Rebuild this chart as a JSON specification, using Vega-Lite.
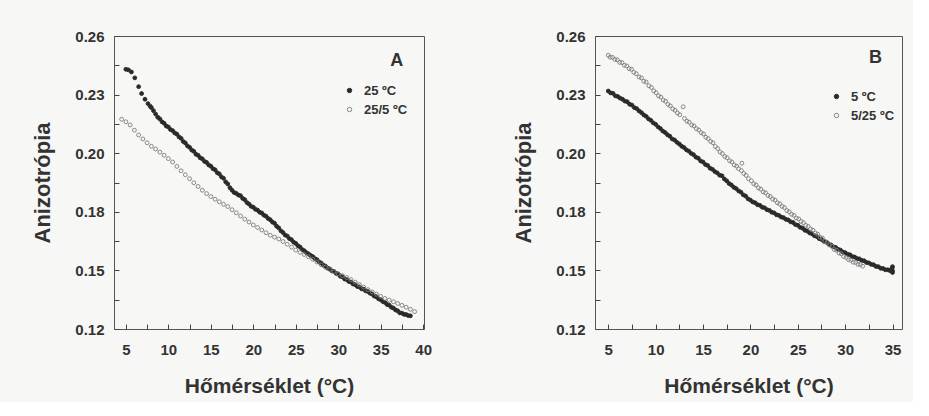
{
"$schema": "https://vega.github.io/schema/vega-lite/v6.json",
"background": "#f7f7f5",
"padding": {"left": 31, "top": 28, "right": 10, "bottom": 5},
"spacing": 80,
"config": {
  "font": "Liberation Sans",
  "view": {"stroke": "#555555", "strokeWidth": 1},
  "axis": {"domain": false, "grid": false, "offset": -5, "tickColor": "#444444", "tickSize": 5, "tickWidth": 1, "tickCount": 60,
    "labelFontSize": 15, "labelFontWeight": "bold", "labelColor": "#333333", "labelOverlap": false, "labelFlush": false, "labelBound": false,
    "titleFontSize": 21, "titleFontWeight": "bold", "titleColor": "#333333"},
  "axisX": {"labelPadding": 13, "titlePadding": 18},
  "axisY": {"labelPadding": 10, "titlePadding": 20, "titleFontSize": 22},
  "legend": {"orient": "none", "title": null, "labelFontSize": 13, "labelFontWeight": "bold", "labelColor": "#333333", "symbolType": "circle", "symbolSize": 20, "symbolStrokeWidth": 0.9, "rowPadding": 5, "labelOffset": 8}
},
"resolve": {"scale": {"x": "independent", "y": "independent", "fill": "independent", "stroke": "independent"}, "legend": {"fill": "independent", "stroke": "independent"}},
"datasets": {
"a": [
{"t":5.0,"r":0.2441,"s":"25 ºC"},{"t":5.3,"r":0.2438,"s":"25 ºC"},{"t":5.65,"r":0.2428,"s":"25 ºC"},{"t":6.05,"r":0.2400,"s":"25 ºC"},{"t":6.5,"r":0.2358,"s":"25 ºC"},{"t":6.85,"r":0.2325,"s":"25 ºC"},{"t":7.25,"r":0.2298,"s":"25 ºC"},{"t":7.6,"r":0.2277,"s":"25 ºC"},{"t":7.85,"r":0.2265,"s":"25 ºC"},
{"t":8.0,"r":0.2258,"s":"25 ºC"},{"t":8.25,"r":0.2243,"s":"25 ºC"},{"t":8.5,"r":0.2227,"s":"25 ºC"},{"t":8.75,"r":0.2212,"s":"25 ºC"},{"t":9.0,"r":0.2204,"s":"25 ºC"},{"t":9.25,"r":0.2190,"s":"25 ºC"},{"t":9.5,"r":0.2183,"s":"25 ºC"},{"t":9.75,"r":0.2170,"s":"25 ºC"},{"t":10.0,"r":0.2165,"s":"25 ºC"},{"t":10.25,"r":0.2153,"s":"25 ºC"},{"t":10.5,"r":0.2148,"s":"25 ºC"},{"t":10.75,"r":0.2137,"s":"25 ºC"},{"t":11.0,"r":0.2131,"s":"25 ºC"},{"t":11.25,"r":0.2118,"s":"25 ºC"},{"t":11.5,"r":0.2111,"s":"25 ºC"},{"t":11.75,"r":0.2096,"s":"25 ºC"},{"t":12.0,"r":0.2089,"s":"25 ºC"},{"t":12.25,"r":0.2075,"s":"25 ºC"},{"t":12.5,"r":0.2068,"s":"25 ºC"},{"t":12.75,"r":0.2055,"s":"25 ºC"},{"t":13.0,"r":0.2049,"s":"25 ºC"},{"t":13.25,"r":0.2035,"s":"25 ºC"},{"t":13.5,"r":0.2030,"s":"25 ºC"},{"t":13.75,"r":0.2018,"s":"25 ºC"},{"t":14.0,"r":0.2013,"s":"25 ºC"},{"t":14.25,"r":0.2001,"s":"25 ºC"},{"t":14.5,"r":0.1996,"s":"25 ºC"},{"t":14.75,"r":0.1984,"s":"25 ºC"},{"t":15.0,"r":0.1978,"s":"25 ºC"},{"t":15.25,"r":0.1966,"s":"25 ºC"},{"t":15.5,"r":0.1961,"s":"25 ºC"},{"t":15.75,"r":0.1947,"s":"25 ºC"},{"t":16.0,"r":0.1941,"s":"25 ºC"},{"t":16.25,"r":0.1927,"s":"25 ºC"},{"t":16.5,"r":0.1920,"s":"25 ºC"},{"t":16.75,"r":0.1903,"s":"25 ºC"},{"t":17.0,"r":0.1893,"s":"25 ºC"},{"t":17.25,"r":0.1875,"s":"25 ºC"},{"t":17.5,"r":0.1863,"s":"25 ºC"},{"t":17.75,"r":0.1852,"s":"25 ºC"},{"t":18.0,"r":0.1848,"s":"25 ºC"},{"t":18.25,"r":0.1840,"s":"25 ºC"},{"t":18.5,"r":0.1837,"s":"25 ºC"},{"t":18.75,"r":0.1824,"s":"25 ºC"},{"t":19.0,"r":0.1818,"s":"25 ºC"},{"t":19.25,"r":0.1804,"s":"25 ºC"},{"t":19.5,"r":0.1797,"s":"25 ºC"},{"t":19.75,"r":0.1786,"s":"25 ºC"},{"t":20.0,"r":0.1782,"s":"25 ºC"},{"t":20.25,"r":0.1772,"s":"25 ºC"},{"t":20.5,"r":0.1768,"s":"25 ºC"},{"t":20.75,"r":0.1758,"s":"25 ºC"},{"t":21.0,"r":0.1754,"s":"25 ºC"},{"t":21.25,"r":0.1744,"s":"25 ºC"},{"t":21.5,"r":0.1739,"s":"25 ºC"},{"t":21.75,"r":0.1728,"s":"25 ºC"},{"t":22.0,"r":0.1722,"s":"25 ºC"},{"t":22.25,"r":0.1711,"s":"25 ºC"},{"t":22.5,"r":0.1705,"s":"25 ºC"},{"t":22.75,"r":0.1691,"s":"25 ºC"},{"t":23.0,"r":0.1683,"s":"25 ºC"},{"t":23.25,"r":0.1669,"s":"25 ºC"},{"t":23.5,"r":0.1661,"s":"25 ºC"},{"t":23.75,"r":0.1649,"s":"25 ºC"},{"t":24.0,"r":0.1644,"s":"25 ºC"},{"t":24.25,"r":0.1632,"s":"25 ºC"},{"t":24.5,"r":0.1627,"s":"25 ºC"},{"t":24.75,"r":0.1615,"s":"25 ºC"},{"t":25.0,"r":0.1609,"s":"25 ºC"},{"t":25.25,"r":0.1598,"s":"25 ºC"},{"t":25.5,"r":0.1592,"s":"25 ºC"},{"t":25.75,"r":0.1580,"s":"25 ºC"},{"t":26.0,"r":0.1574,"s":"25 ºC"},{"t":26.25,"r":0.1565,"s":"25 ºC"},{"t":26.5,"r":0.1559,"s":"25 ºC"},{"t":26.75,"r":0.1551,"s":"25 ºC"},{"t":27.0,"r":0.1546,"s":"25 ºC"},{"t":27.25,"r":0.1536,"s":"25 ºC"},{"t":27.5,"r":0.1531,"s":"25 ºC"},{"t":27.75,"r":0.1520,"s":"25 ºC"},{"t":28.0,"r":0.1515,"s":"25 ºC"},{"t":28.25,"r":0.1505,"s":"25 ºC"},{"t":28.5,"r":0.1500,"s":"25 ºC"},{"t":28.75,"r":0.1491,"s":"25 ºC"},{"t":29.0,"r":0.1487,"s":"25 ºC"},{"t":29.25,"r":0.1478,"s":"25 ºC"},{"t":29.5,"r":0.1475,"s":"25 ºC"},{"t":29.75,"r":0.1466,"s":"25 ºC"},{"t":30.0,"r":0.1462,"s":"25 ºC"},{"t":30.25,"r":0.1452,"s":"25 ºC"},{"t":30.5,"r":0.1449,"s":"25 ºC"},{"t":30.75,"r":0.1439,"s":"25 ºC"},{"t":31.0,"r":0.1436,"s":"25 ºC"},{"t":31.25,"r":0.1427,"s":"25 ºC"},{"t":31.5,"r":0.1424,"s":"25 ºC"},{"t":31.75,"r":0.1415,"s":"25 ºC"},{"t":32.0,"r":0.1412,"s":"25 ºC"},{"t":32.25,"r":0.1403,"s":"25 ºC"},{"t":32.5,"r":0.1401,"s":"25 ºC"},{"t":32.75,"r":0.1392,"s":"25 ºC"},{"t":33.0,"r":0.1390,"s":"25 ºC"},{"t":33.25,"r":0.1382,"s":"25 ºC"},{"t":33.5,"r":0.1379,"s":"25 ºC"},{"t":33.75,"r":0.1371,"s":"25 ºC"},{"t":34.0,"r":0.1367,"s":"25 ºC"},{"t":34.25,"r":0.1357,"s":"25 ºC"},{"t":34.5,"r":0.1354,"s":"25 ºC"},{"t":34.75,"r":0.1344,"s":"25 ºC"},{"t":35.0,"r":0.1340,"s":"25 ºC"},{"t":35.25,"r":0.1331,"s":"25 ºC"},{"t":35.5,"r":0.1327,"s":"25 ºC"},{"t":35.75,"r":0.1317,"s":"25 ºC"},{"t":36.0,"r":0.1314,"s":"25 ºC"},{"t":36.25,"r":0.1304,"s":"25 ºC"},{"t":36.5,"r":0.1300,"s":"25 ºC"},{"t":36.75,"r":0.1291,"s":"25 ºC"},{"t":37.0,"r":0.1287,"s":"25 ºC"},{"t":37.25,"r":0.1277,"s":"25 ºC"},{"t":37.5,"r":0.1276,"s":"25 ºC"},{"t":37.75,"r":0.1270,"s":"25 ºC"},{"t":38.0,"r":0.1269,"s":"25 ºC"},{"t":38.25,"r":0.1264,"s":"25 ºC"},{"t":38.5,"r":0.1263,"s":"25 ºC"},
{"t":4.5,"r":0.2202,"s":"25/5 ºC"},{"t":5.0,"r":0.2190,"s":"25/5 ºC"},{"t":5.5,"r":0.2175,"s":"25/5 ºC"},{"t":6.0,"r":0.2150,"s":"25/5 ºC"},{"t":6.5,"r":0.2127,"s":"25/5 ºC"},{"t":7.0,"r":0.2108,"s":"25/5 ºC"},{"t":7.5,"r":0.2090,"s":"25/5 ºC"},{"t":8.0,"r":0.2073,"s":"25/5 ºC"},{"t":8.5,"r":0.2060,"s":"25/5 ºC"},{"t":9.0,"r":0.2045,"s":"25/5 ºC"},{"t":9.5,"r":0.2030,"s":"25/5 ºC"},{"t":10.0,"r":0.2014,"s":"25/5 ºC"},{"t":10.5,"r":0.1998,"s":"25/5 ºC"},{"t":11.0,"r":0.1977,"s":"25/5 ºC"},{"t":11.5,"r":0.1956,"s":"25/5 ºC"},{"t":12.0,"r":0.1937,"s":"25/5 ºC"},{"t":12.5,"r":0.1918,"s":"25/5 ºC"},{"t":13.0,"r":0.1899,"s":"25/5 ºC"},{"t":13.5,"r":0.1881,"s":"25/5 ºC"},{"t":14.0,"r":0.1863,"s":"25/5 ºC"},{"t":14.5,"r":0.1847,"s":"25/5 ºC"},{"t":15.0,"r":0.1833,"s":"25/5 ºC"},{"t":15.5,"r":0.1820,"s":"25/5 ºC"},{"t":16.0,"r":0.1808,"s":"25/5 ºC"},{"t":16.5,"r":0.1796,"s":"25/5 ºC"},{"t":17.0,"r":0.1785,"s":"25/5 ºC"},{"t":17.5,"r":0.1770,"s":"25/5 ºC"},{"t":18.0,"r":0.1755,"s":"25/5 ºC"},{"t":18.5,"r":0.1740,"s":"25/5 ºC"},{"t":19.0,"r":0.1725,"s":"25/5 ºC"},{"t":19.5,"r":0.1711,"s":"25/5 ºC"},{"t":20.0,"r":0.1697,"s":"25/5 ºC"},{"t":20.5,"r":0.1685,"s":"25/5 ºC"},{"t":21.0,"r":0.1673,"s":"25/5 ºC"},{"t":21.5,"r":0.1660,"s":"25/5 ºC"},{"t":22.0,"r":0.1648,"s":"25/5 ºC"},{"t":22.5,"r":0.1639,"s":"25/5 ºC"},{"t":23.0,"r":0.1630,"s":"25/5 ºC"},{"t":23.5,"r":0.1618,"s":"25/5 ºC"},{"t":24.0,"r":0.1605,"s":"25/5 ºC"},{"t":24.5,"r":0.1591,"s":"25/5 ºC"},{"t":25.0,"r":0.1577,"s":"25/5 ºC"},{"t":25.5,"r":0.1566,"s":"25/5 ºC"},{"t":26.0,"r":0.1556,"s":"25/5 ºC"},{"t":26.5,"r":0.1545,"s":"25/5 ºC"},{"t":27.0,"r":0.1533,"s":"25/5 ºC"},{"t":27.5,"r":0.1520,"s":"25/5 ºC"},{"t":28.0,"r":0.1507,"s":"25/5 ºC"},{"t":28.5,"r":0.1495,"s":"25/5 ºC"},{"t":29.0,"r":0.1484,"s":"25/5 ºC"},{"t":29.5,"r":0.1474,"s":"25/5 ºC"},{"t":30.0,"r":0.1464,"s":"25/5 ºC"},{"t":30.5,"r":0.1455,"s":"25/5 ºC"},{"t":31.0,"r":0.1446,"s":"25/5 ºC"},{"t":31.5,"r":0.1436,"s":"25/5 ºC"},{"t":32.0,"r":0.1424,"s":"25/5 ºC"},{"t":32.5,"r":0.1412,"s":"25/5 ºC"},{"t":33.0,"r":0.1400,"s":"25/5 ºC"},{"t":33.5,"r":0.1388,"s":"25/5 ºC"},{"t":34.0,"r":0.1377,"s":"25/5 ºC"},{"t":34.5,"r":0.1366,"s":"25/5 ºC"},{"t":35.0,"r":0.1356,"s":"25/5 ºC"},{"t":35.5,"r":0.1346,"s":"25/5 ºC"},{"t":36.0,"r":0.1338,"s":"25/5 ºC"},{"t":36.5,"r":0.1330,"s":"25/5 ºC"},{"t":37.0,"r":0.1322,"s":"25/5 ºC"},{"t":37.5,"r":0.1313,"s":"25/5 ºC"},{"t":38.0,"r":0.1304,"s":"25/5 ºC"},{"t":38.5,"r":0.1294,"s":"25/5 ºC"},{"t":39.0,"r":0.1283,"s":"25/5 ºC"}
],
"b": [
{"t":5.0,"r":0.2337,"s":"5 ºC"},{"t":5.25,"r":0.2328,"s":"5 ºC"},{"t":5.5,"r":0.2326,"s":"5 ºC"},{"t":5.75,"r":0.2314,"s":"5 ºC"},{"t":6.0,"r":0.2311,"s":"5 ºC"},{"t":6.25,"r":0.2303,"s":"5 ºC"},{"t":6.5,"r":0.2298,"s":"5 ºC"},{"t":6.75,"r":0.2289,"s":"5 ºC"},{"t":7.0,"r":0.2286,"s":"5 ºC"},{"t":7.25,"r":0.2274,"s":"5 ºC"},{"t":7.5,"r":0.2270,"s":"5 ºC"},{"t":7.75,"r":0.2258,"s":"5 ºC"},{"t":8.0,"r":0.2253,"s":"5 ºC"},{"t":8.25,"r":0.2242,"s":"5 ºC"},{"t":8.5,"r":0.2234,"s":"5 ºC"},{"t":8.75,"r":0.2223,"s":"5 ºC"},{"t":9.0,"r":0.2216,"s":"5 ºC"},{"t":9.25,"r":0.2204,"s":"5 ºC"},{"t":9.5,"r":0.2197,"s":"5 ºC"},{"t":9.75,"r":0.2185,"s":"5 ºC"},{"t":10.0,"r":0.2178,"s":"5 ºC"},{"t":10.25,"r":0.2166,"s":"5 ºC"},{"t":10.5,"r":0.2158,"s":"5 ºC"},{"t":10.75,"r":0.2146,"s":"5 ºC"},{"t":11.0,"r":0.2139,"s":"5 ºC"},{"t":11.25,"r":0.2128,"s":"5 ºC"},{"t":11.5,"r":0.2121,"s":"5 ºC"},{"t":11.75,"r":0.2108,"s":"5 ºC"},{"t":12.0,"r":0.2103,"s":"5 ºC"},{"t":12.25,"r":0.2092,"s":"5 ºC"},{"t":12.5,"r":0.2084,"s":"5 ºC"},{"t":12.75,"r":0.2073,"s":"5 ºC"},{"t":13.0,"r":0.2067,"s":"5 ºC"},{"t":13.25,"r":0.2056,"s":"5 ºC"},{"t":13.5,"r":0.2050,"s":"5 ºC"},{"t":13.75,"r":0.2039,"s":"5 ºC"},{"t":14.0,"r":0.2033,"s":"5 ºC"},{"t":14.25,"r":0.2021,"s":"5 ºC"},{"t":14.5,"r":0.2016,"s":"5 ºC"},{"t":14.75,"r":0.2003,"s":"5 ºC"},{"t":15.0,"r":0.1998,"s":"5 ºC"},{"t":15.25,"r":0.1986,"s":"5 ºC"},{"t":15.5,"r":0.1981,"s":"5 ºC"},{"t":15.75,"r":0.1968,"s":"5 ºC"},{"t":16.0,"r":0.1963,"s":"5 ºC"},{"t":16.25,"r":0.1952,"s":"5 ºC"},{"t":16.5,"r":0.1946,"s":"5 ºC"},{"t":16.75,"r":0.1935,"s":"5 ºC"},{"t":17.0,"r":0.1932,"s":"5 ºC"},{"t":17.25,"r":0.1917,"s":"5 ºC"},{"t":17.5,"r":0.1908,"s":"5 ºC"},{"t":17.75,"r":0.1895,"s":"5 ºC"},{"t":18.0,"r":0.1888,"s":"5 ºC"},{"t":18.25,"r":0.1877,"s":"5 ºC"},{"t":18.5,"r":0.1871,"s":"5 ºC"},{"t":18.75,"r":0.1860,"s":"5 ºC"},{"t":19.0,"r":0.1854,"s":"5 ºC"},{"t":19.25,"r":0.1841,"s":"5 ºC"},{"t":19.5,"r":0.1835,"s":"5 ºC"},{"t":19.75,"r":0.1822,"s":"5 ºC"},{"t":20.0,"r":0.1816,"s":"5 ºC"},{"t":20.25,"r":0.1807,"s":"5 ºC"},{"t":20.5,"r":0.1803,"s":"5 ºC"},{"t":20.75,"r":0.1794,"s":"5 ºC"},{"t":21.0,"r":0.1791,"s":"5 ºC"},{"t":21.25,"r":0.1782,"s":"5 ºC"},{"t":21.5,"r":0.1779,"s":"5 ºC"},{"t":21.75,"r":0.1770,"s":"5 ºC"},{"t":22.0,"r":0.1767,"s":"5 ºC"},{"t":22.25,"r":0.1758,"s":"5 ºC"},{"t":22.5,"r":0.1755,"s":"5 ºC"},{"t":22.75,"r":0.1746,"s":"5 ºC"},{"t":23.0,"r":0.1743,"s":"5 ºC"},{"t":23.25,"r":0.1735,"s":"5 ºC"},{"t":23.5,"r":0.1732,"s":"5 ºC"},{"t":23.75,"r":0.1724,"s":"5 ºC"},{"t":24.0,"r":0.1721,"s":"5 ºC"},{"t":24.25,"r":0.1712,"s":"5 ºC"},{"t":24.5,"r":0.1709,"s":"5 ºC"},{"t":24.75,"r":0.1699,"s":"5 ºC"},{"t":25.0,"r":0.1696,"s":"5 ºC"},{"t":25.25,"r":0.1686,"s":"5 ºC"},{"t":25.5,"r":0.1682,"s":"5 ºC"},{"t":25.75,"r":0.1672,"s":"5 ºC"},{"t":26.0,"r":0.1668,"s":"5 ºC"},{"t":26.25,"r":0.1659,"s":"5 ºC"},{"t":26.5,"r":0.1655,"s":"5 ºC"},{"t":26.75,"r":0.1646,"s":"5 ºC"},{"t":27.0,"r":0.1642,"s":"5 ºC"},{"t":27.25,"r":0.1632,"s":"5 ºC"},{"t":27.5,"r":0.1628,"s":"5 ºC"},{"t":27.75,"r":0.1619,"s":"5 ºC"},{"t":28.0,"r":0.1615,"s":"5 ºC"},{"t":28.25,"r":0.1606,"s":"5 ºC"},{"t":28.5,"r":0.1602,"s":"5 ºC"},{"t":28.75,"r":0.1593,"s":"5 ºC"},{"t":29.0,"r":0.1590,"s":"5 ºC"},{"t":29.25,"r":0.1581,"s":"5 ºC"},{"t":29.5,"r":0.1577,"s":"5 ºC"},{"t":29.75,"r":0.1568,"s":"5 ºC"},{"t":30.0,"r":0.1565,"s":"5 ºC"},{"t":30.25,"r":0.1557,"s":"5 ºC"},{"t":30.5,"r":0.1555,"s":"5 ºC"},{"t":30.75,"r":0.1546,"s":"5 ºC"},{"t":31.0,"r":0.1544,"s":"5 ºC"},{"t":31.25,"r":0.1537,"s":"5 ºC"},{"t":31.5,"r":0.1535,"s":"5 ºC"},{"t":31.75,"r":0.1528,"s":"5 ºC"},{"t":32.0,"r":0.1526,"s":"5 ºC"},{"t":32.25,"r":0.1518,"s":"5 ºC"},{"t":32.5,"r":0.1516,"s":"5 ºC"},{"t":32.75,"r":0.1509,"s":"5 ºC"},{"t":33.0,"r":0.1507,"s":"5 ºC"},{"t":33.25,"r":0.1499,"s":"5 ºC"},{"t":33.5,"r":0.1498,"s":"5 ºC"},{"t":33.75,"r":0.1490,"s":"5 ºC"},{"t":34.0,"r":0.1489,"s":"5 ºC"},{"t":34.25,"r":0.1483,"s":"5 ºC"},{"t":34.5,"r":0.1483,"s":"5 ºC"},{"t":34.75,"r":0.1478,"s":"5 ºC"},{"t":34.9,"r":0.1484,"s":"5 ºC"},{"t":34.95,"r":0.1491,"s":"5 ºC"},{"t":35.0,"r":0.1478,"s":"5 ºC"},{"t":35.0,"r":0.1498,"s":"5 ºC"},{"t":35.0,"r":0.1470,"s":"5 ºC"},
{"t":5.0,"r":0.2508,"s":"5/25 ºC"},{"t":5.2,"r":0.2499,"s":"5/25 ºC"},{"t":5.45,"r":0.2498,"s":"5/25 ºC"},{"t":5.7,"r":0.2488,"s":"5/25 ºC"},{"t":5.95,"r":0.2486,"s":"5/25 ºC"},{"t":6.2,"r":0.2474,"s":"5/25 ºC"},{"t":6.45,"r":0.2473,"s":"5/25 ºC"},{"t":6.7,"r":0.2460,"s":"5/25 ºC"},{"t":6.95,"r":0.2457,"s":"5/25 ºC"},{"t":7.2,"r":0.2444,"s":"5/25 ºC"},{"t":7.45,"r":0.2441,"s":"5/25 ºC"},{"t":7.7,"r":0.2426,"s":"5/25 ºC"},{"t":7.95,"r":0.2420,"s":"5/25 ºC"},{"t":8.25,"r":0.2404,"s":"5/25 ºC"},{"t":8.5,"r":0.2400,"s":"5/25 ºC"},{"t":8.75,"r":0.2384,"s":"5/25 ºC"},{"t":9.0,"r":0.2380,"s":"5/25 ºC"},{"t":9.3,"r":0.2362,"s":"5/25 ºC"},{"t":9.55,"r":0.2354,"s":"5/25 ºC"},{"t":9.8,"r":0.2338,"s":"5/25 ºC"},{"t":10.05,"r":0.2329,"s":"5/25 ºC"},{"t":10.3,"r":0.2314,"s":"5/25 ºC"},{"t":10.55,"r":0.2308,"s":"5/25 ºC"},{"t":10.8,"r":0.2294,"s":"5/25 ºC"},{"t":11.05,"r":0.2288,"s":"5/25 ºC"},{"t":11.3,"r":0.2273,"s":"5/25 ºC"},{"t":11.55,"r":0.2266,"s":"5/25 ºC"},{"t":11.8,"r":0.2252,"s":"5/25 ºC"},{"t":12.05,"r":0.2245,"s":"5/25 ºC"},{"t":12.3,"r":0.2232,"s":"5/25 ºC"},{"t":12.55,"r":0.2224,"s":"5/25 ºC"},{"t":12.9,"r":0.2262,"s":"5/25 ºC"},{"t":13.05,"r":0.2206,"s":"5/25 ºC"},{"t":13.3,"r":0.2193,"s":"5/25 ºC"},{"t":13.55,"r":0.2188,"s":"5/25 ºC"},{"t":13.8,"r":0.2175,"s":"5/25 ºC"},{"t":14.05,"r":0.2170,"s":"5/25 ºC"},{"t":14.3,"r":0.2157,"s":"5/25 ºC"},{"t":14.55,"r":0.2151,"s":"5/25 ºC"},{"t":14.8,"r":0.2138,"s":"5/25 ºC"},{"t":15.05,"r":0.2132,"s":"5/25 ºC"},{"t":15.3,"r":0.2116,"s":"5/25 ºC"},{"t":15.55,"r":0.2110,"s":"5/25 ºC"},{"t":15.8,"r":0.2096,"s":"5/25 ºC"},{"t":16.05,"r":0.2090,"s":"5/25 ºC"},{"t":16.3,"r":0.2072,"s":"5/25 ºC"},{"t":16.55,"r":0.2062,"s":"5/25 ºC"},{"t":16.8,"r":0.2046,"s":"5/25 ºC"},{"t":17.05,"r":0.2038,"s":"5/25 ºC"},{"t":17.3,"r":0.2024,"s":"5/25 ºC"},{"t":17.55,"r":0.2018,"s":"5/25 ºC"},{"t":17.8,"r":0.2004,"s":"5/25 ºC"},{"t":18.05,"r":0.1998,"s":"5/25 ºC"},{"t":18.3,"r":0.1984,"s":"5/25 ºC"},{"t":18.55,"r":0.1978,"s":"5/25 ºC"},{"t":18.75,"r":0.1966,"s":"5/25 ºC"},{"t":19.1,"r":0.1992,"s":"5/25 ºC"},{"t":19.05,"r":0.1957,"s":"5/25 ºC"},{"t":19.3,"r":0.1943,"s":"5/25 ºC"},{"t":19.55,"r":0.1934,"s":"5/25 ºC"},{"t":19.8,"r":0.1918,"s":"5/25 ºC"},{"t":20.1,"r":0.1908,"s":"5/25 ºC"},{"t":20.35,"r":0.1894,"s":"5/25 ºC"},{"t":20.6,"r":0.1888,"s":"5/25 ºC"},{"t":20.85,"r":0.1874,"s":"5/25 ºC"},{"t":21.1,"r":0.1868,"s":"5/25 ºC"},{"t":21.35,"r":0.1855,"s":"5/25 ºC"},{"t":21.6,"r":0.1851,"s":"5/25 ºC"},{"t":21.85,"r":0.1838,"s":"5/25 ºC"},{"t":22.1,"r":0.1833,"s":"5/25 ºC"},{"t":22.35,"r":0.1821,"s":"5/25 ºC"},{"t":22.6,"r":0.1816,"s":"5/25 ºC"},{"t":22.85,"r":0.1803,"s":"5/25 ºC"},{"t":23.1,"r":0.1798,"s":"5/25 ºC"},{"t":23.35,"r":0.1786,"s":"5/25 ºC"},{"t":23.6,"r":0.1780,"s":"5/25 ºC"},{"t":23.85,"r":0.1766,"s":"5/25 ºC"},{"t":24.1,"r":0.1760,"s":"5/25 ºC"},{"t":24.35,"r":0.1748,"s":"5/25 ºC"},{"t":24.6,"r":0.1743,"s":"5/25 ºC"},{"t":24.85,"r":0.1730,"s":"5/25 ºC"},{"t":25.1,"r":0.1726,"s":"5/25 ºC"},{"t":25.35,"r":0.1714,"s":"5/25 ºC"},{"t":25.6,"r":0.1708,"s":"5/25 ºC"},{"t":25.85,"r":0.1695,"s":"5/25 ºC"},{"t":26.1,"r":0.1690,"s":"5/25 ºC"},{"t":26.35,"r":0.1678,"s":"5/25 ºC"},{"t":26.6,"r":0.1672,"s":"5/25 ºC"},{"t":26.85,"r":0.1659,"s":"5/25 ºC"},{"t":27.1,"r":0.1653,"s":"5/25 ºC"},{"t":27.35,"r":0.1639,"s":"5/25 ºC"},{"t":27.6,"r":0.1634,"s":"5/25 ºC"},{"t":27.85,"r":0.1619,"s":"5/25 ºC"},{"t":28.1,"r":0.1614,"s":"5/25 ºC"},{"t":28.35,"r":0.1601,"s":"5/25 ºC"},{"t":28.6,"r":0.1595,"s":"5/25 ºC"},{"t":28.85,"r":0.1580,"s":"5/25 ºC"},{"t":29.1,"r":0.1576,"s":"5/25 ºC"},{"t":29.35,"r":0.1563,"s":"5/25 ºC"},{"t":29.6,"r":0.1559,"s":"5/25 ºC"},{"t":29.85,"r":0.1546,"s":"5/25 ºC"},{"t":30.1,"r":0.1542,"s":"5/25 ºC"},{"t":30.35,"r":0.1531,"s":"5/25 ºC"},{"t":30.6,"r":0.1529,"s":"5/25 ºC"},{"t":30.85,"r":0.1519,"s":"5/25 ºC"},{"t":31.1,"r":0.1518,"s":"5/25 ºC"},{"t":31.35,"r":0.1509,"s":"5/25 ºC"},{"t":31.6,"r":0.1508,"s":"5/25 ºC"},{"t":31.85,"r":0.1500,"s":"5/25 ºC"}
],
"la": [{"label": "A"}],
"lb": [{"label": "B"}]
},
"hconcat": [
{
 "width": 310, "height": 293,
 "layer": [
  {"data": {"name": "a"},
   "mark": {"type": "point", "shape": "circle", "size": 15, "strokeWidth": 0.9, "opacity": 1},
   "encoding": {
     "x": {"field": "t", "type": "quantitative", "scale": {"domain": [3.6, 40.1], "nice": false, "zero": false},
       "axis": {"title": "Hőmérséklet (°C)", "values": [5,7.5,10,12.5,15,17.5,20,22.5,25,27.5,30,32.5,35,37.5,40], "labelExpr": "datum.value % 5 == 0 ? format(datum.value, 'd') : ''"}},
     "y": {"field": "r", "type": "quantitative", "scale": {"domain": [0.12, 0.26], "nice": false, "zero": false},
       "axis": {"title": "Anizotrópia", "values": [0.12,0.134,0.148,0.162,0.176,0.19,0.204,0.218,0.232,0.246,0.26], "labelExpr": "round((datum.value-0.12)/0.014) % 2 == 0 ? format(datum.value, '.2f') : ''"}},
     "fill": {"field": "s", "type": "nominal", "scale": {"domain": ["25 ºC", "25/5 ºC"], "range": ["#2a2a2a", "rgba(255,255,255,0)"]}, "legend": {"legendX": 229, "legendY": 48}},
     "stroke": {"field": "s", "type": "nominal", "scale": {"domain": ["25 ºC", "25/5 ºC"], "range": ["#2a2a2a", "#7d7d7d"]}, "legend": {"legendX": 229, "legendY": 48}}
   }},
  {"data": {"name": "la"},
   "mark": {"type": "text", "fontSize": 18, "fontWeight": "bold", "color": "#333333"},
   "encoding": {"x": {"datum": 36.9, "type": "quantitative"}, "y": {"datum": 0.2481, "type": "quantitative"}, "text": {"field": "label"}}}
 ]
},
{
 "width": 307, "height": 293,
 "layer": [
  {"data": {"name": "b"},
   "mark": {"type": "point", "shape": "circle", "size": 15, "strokeWidth": 0.9, "opacity": 1},
   "encoding": {
     "x": {"field": "t", "type": "quantitative", "scale": {"domain": [3.6, 36], "nice": false, "zero": false},
       "axis": {"title": "Hőmérséklet (°C)", "values": [5,7.5,10,12.5,15,17.5,20,22.5,25,27.5,30,32.5,35], "labelExpr": "datum.value % 5 == 0 ? format(datum.value, 'd') : ''"}},
     "y": {"field": "r", "type": "quantitative", "scale": {"domain": [0.12, 0.26], "nice": false, "zero": false},
       "axis": {"title": "Anizotrópia", "values": [0.12,0.134,0.148,0.162,0.176,0.19,0.204,0.218,0.232,0.246,0.26], "labelExpr": "round((datum.value-0.12)/0.014) % 2 == 0 ? format(datum.value, '.2f') : ''"}},
     "fill": {"field": "s", "type": "nominal", "scale": {"domain": ["5 ºC", "5/25 ºC"], "range": ["#2a2a2a", "rgba(255,255,255,0)"]}, "legend": {"legendX": 235, "legendY": 54}},
     "stroke": {"field": "s", "type": "nominal", "scale": {"domain": ["5 ºC", "5/25 ºC"], "range": ["#2a2a2a", "#7d7d7d"]}, "legend": {"legendX": 235, "legendY": 54}}
   }},
  {"data": {"name": "lb"},
   "mark": {"type": "text", "fontSize": 18, "fontWeight": "bold", "color": "#333333"},
   "encoding": {"x": {"datum": 33.2, "type": "quantitative"}, "y": {"datum": 0.2496, "type": "quantitative"}, "text": {"field": "label"}}}
 ]
}
]
}
